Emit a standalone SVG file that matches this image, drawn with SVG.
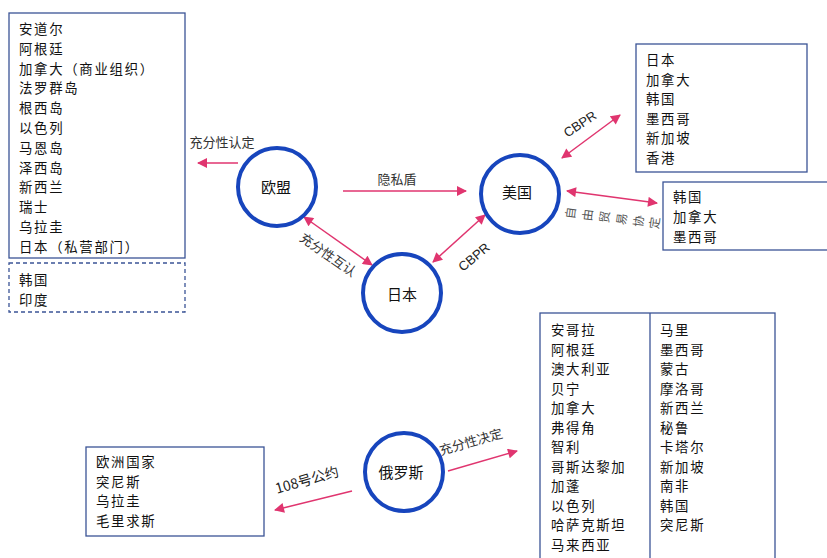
<svg xmlns="http://www.w3.org/2000/svg" width="827" height="558" viewBox="0 0 827 558">
<style>
.bg{fill:#ffffff}
.box{fill:#ffffff;stroke:#3b5496;stroke-width:1.3}
.dbox{fill:#ffffff;stroke:#3b5496;stroke-width:1.3;stroke-dasharray:4 3}
.node{fill:#ffffff;stroke:#1745bd;stroke-width:4}
.lst{font-family:"Noto Sans CJK SC","Liberation Sans",sans-serif;font-size:13.4px;letter-spacing:1.7px;fill:#111}
.nl{font-family:"Noto Sans CJK SC","Liberation Sans",sans-serif;font-size:15px;fill:#111;text-anchor:middle}
.lab{font-family:"Noto Sans CJK SC","Liberation Sans",sans-serif;font-size:13px;fill:#333;text-anchor:middle}
.en{font-family:"Liberation Sans",Arial,sans-serif;font-size:13px;fill:#222;text-anchor:middle}
.ar{stroke:#e0356f;stroke-width:1.5;fill:none}
</style>
<defs>
<marker id="ah" viewBox="0 0 10 10" refX="9" refY="5" markerWidth="11" markerHeight="10" markerUnits="userSpaceOnUse" orient="auto-start-reverse">
<path d="M0,0 L10,5 L0,10 Z" fill="#e0356f"/>
</marker>
</defs>
<rect class="bg" x="0" y="0" width="827" height="558"/>

<g id="eu-list">
<rect class="box" x="9" y="13" width="176" height="245"/>
<text class="lst" x="19" y="34">安道尔</text>
<text class="lst" x="19" y="53.8">阿根廷</text>
<text class="lst" x="19" y="73.6">加拿大（商业组织）</text>
<text class="lst" x="19" y="93.4">法罗群岛</text>
<text class="lst" x="19" y="113.2">根西岛</text>
<text class="lst" x="19" y="133">以色列</text>
<text class="lst" x="19" y="152.8">马恩岛</text>
<text class="lst" x="19" y="172.6">泽西岛</text>
<text class="lst" x="19" y="192.4">新西兰</text>
<text class="lst" x="19" y="212.2">瑞士</text>
<text class="lst" x="19" y="232">乌拉圭</text>
<text class="lst" x="19" y="251.8">日本（私营部门）</text>
</g>
<g id="eu-pending">
<rect class="dbox" x="9" y="263" width="176" height="49"/>
<text class="lst" x="19" y="285">韩国</text>
<text class="lst" x="19" y="304.5">印度</text>
</g>

<g id="us-cbpr-list">
<rect class="box" x="636" y="44" width="171" height="128"/>
<text class="lst" x="646" y="65">日本</text>
<text class="lst" x="646" y="84.5">加拿大</text>
<text class="lst" x="646" y="104">韩国</text>
<text class="lst" x="646" y="123.5">墨西哥</text>
<text class="lst" x="646" y="143">新加坡</text>
<text class="lst" x="646" y="162.5">香港</text>
</g>
<g id="us-fta-list">
<rect class="box" x="663" y="182" width="170" height="68"/>
<text class="lst" x="673" y="202">韩国</text>
<text class="lst" x="673" y="222">加拿大</text>
<text class="lst" x="673" y="242">墨西哥</text>
</g>

<g id="ru-list">
<rect class="box" x="540" y="313" width="235" height="250"/>
<line class="box" x1="650" y1="313" x2="650" y2="563"/>
<text class="lst" x="551" y="335">安哥拉</text>
<text class="lst" x="551" y="354.5">阿根廷</text>
<text class="lst" x="551" y="374">澳大利亚</text>
<text class="lst" x="551" y="393.5">贝宁</text>
<text class="lst" x="551" y="413">加拿大</text>
<text class="lst" x="551" y="432.5">弗得角</text>
<text class="lst" x="551" y="452">智利</text>
<text class="lst" x="551" y="471.5">哥斯达黎加</text>
<text class="lst" x="551" y="491">加蓬</text>
<text class="lst" x="551" y="510.5">以色列</text>
<text class="lst" x="551" y="530">哈萨克斯坦</text>
<text class="lst" x="551" y="549.5">马来西亚</text>
<text class="lst" x="660" y="335">马里</text>
<text class="lst" x="660" y="354.5">墨西哥</text>
<text class="lst" x="660" y="374">蒙古</text>
<text class="lst" x="660" y="393.5">摩洛哥</text>
<text class="lst" x="660" y="413">新西兰</text>
<text class="lst" x="660" y="432.5">秘鲁</text>
<text class="lst" x="660" y="452">卡塔尔</text>
<text class="lst" x="660" y="471.5">新加坡</text>
<text class="lst" x="660" y="491">南非</text>
<text class="lst" x="660" y="510.5">韩国</text>
<text class="lst" x="660" y="530">突尼斯</text>
</g>

<g id="c108-list">
<rect class="box" x="86" y="447" width="178" height="89"/>
<text class="lst" x="96" y="467">欧洲国家</text>
<text class="lst" x="96" y="486.5">突尼斯</text>
<text class="lst" x="96" y="506">乌拉圭</text>
<text class="lst" x="96" y="525.5">毛里求斯</text>
</g>

<g id="connectors">
<line class="ar" x1="238" y1="163" x2="198" y2="163" marker-end="url(#ah)"/>
<text class="lab" x="222" y="147">充分性认定</text>
<line class="ar" x1="343" y1="191" x2="466" y2="191" marker-end="url(#ah)"/>
<text class="lab" x="397" y="184">隐私盾</text>
<line class="ar" x1="304" y1="217" x2="372" y2="265" marker-start="url(#ah)" marker-end="url(#ah)"/>
<text class="lab" transform="translate(328,255) rotate(35)" x="0" y="4.5">充分性互认</text>
<line class="ar" x1="433" y1="262" x2="485" y2="215" marker-start="url(#ah)" marker-end="url(#ah)"/>
<text class="en" transform="translate(474,257) rotate(-40)" x="0" y="4.5">CBPR</text>
<line class="ar" x1="562" y1="158" x2="620" y2="115" marker-start="url(#ah)" marker-end="url(#ah)"/>
<text class="en" transform="translate(580,124) rotate(-34)" x="0" y="4.5">CBPR</text>
<line class="ar" x1="567" y1="191" x2="657" y2="203" marker-start="url(#ah)" marker-end="url(#ah)"/>
<g class="lab" style="font-size:12px;fill:#555">
<text transform="translate(571,213) rotate(-83)" x="0" y="4">自</text>
<text transform="translate(588,215) rotate(-83)" x="0" y="4">由</text>
<text transform="translate(605,217) rotate(-83)" x="0" y="4">贸</text>
<text transform="translate(622,219) rotate(-83)" x="0" y="4">易</text>
<text transform="translate(639,221) rotate(-83)" x="0" y="4">协</text>
<text transform="translate(655,223) rotate(-83)" x="0" y="4">定</text>
</g>
<line class="ar" x1="352" y1="491" x2="275" y2="510" marker-end="url(#ah)"/>
<text class="lab" style="font-size:14px;fill:#222" transform="translate(307,480) rotate(-16)" x="0" y="5">108号公约</text>
<line class="ar" x1="448" y1="471" x2="517" y2="451" marker-end="url(#ah)"/>
<text class="lab" transform="translate(471,442) rotate(-16)" x="0" y="4.5">充分性决定</text>
</g>

<g id="eu">
<circle class="node" cx="277" cy="187" r="39"/>
<text class="nl" x="276" y="193">欧盟</text>
</g>
<g id="us">
<circle class="node" cx="520" cy="194" r="39"/>
<text class="nl" x="517" y="198">美国</text>
</g>
<g id="japan">
<circle class="node" cx="402" cy="293" r="39"/>
<text class="nl" x="402" y="300">日本</text>
</g>
<g id="russia">
<circle class="node" cx="404" cy="472" r="39"/>
<text class="nl" x="401" y="478">俄罗斯</text>
</g>
</svg>
